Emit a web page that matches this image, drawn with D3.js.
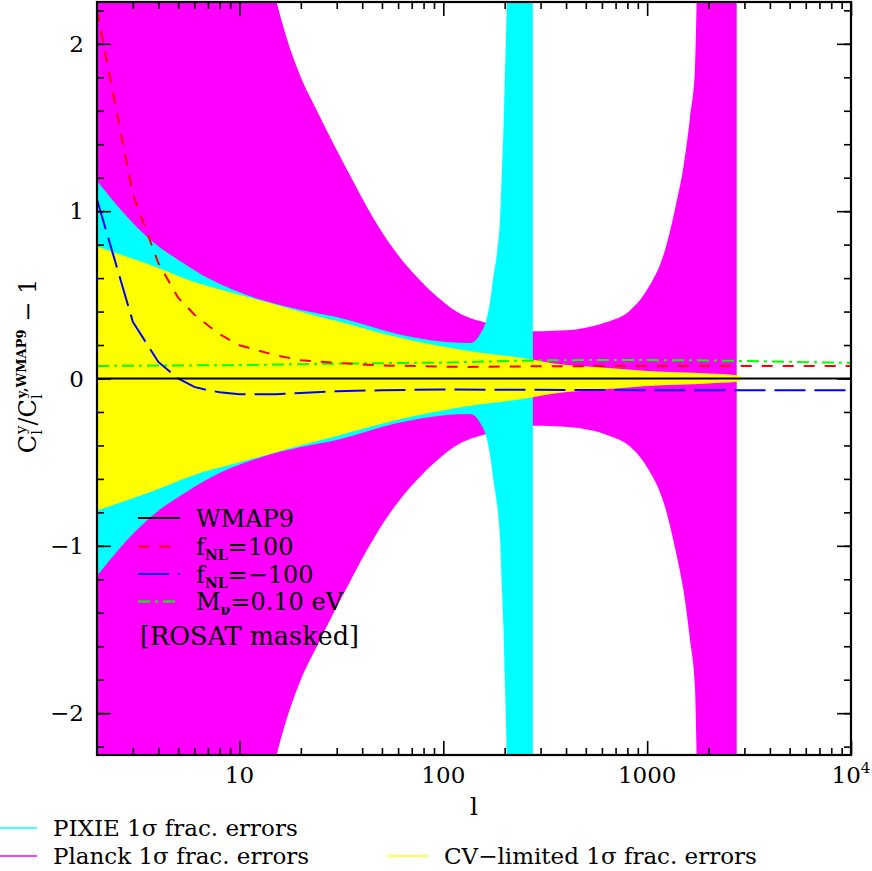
<!DOCTYPE html>
<html>
<head>
<meta charset="utf-8">
<script src="https://cdn.jsdelivr.net/npm/d3@7"></script>
<style>
body { margin: 0; background: #fff; }
text { font-family: "DejaVu Serif", serif; fill: #000; }
</style>
</head>
<body>
<svg id="chart" width="872" height="871"></svg>
<script>
// fractional 1-sigma errors (symmetric bands)
var planckL   = [2, 5, 10, 15, 17, 20, 24, 29, 35, 42, 57, 74, 93, 117, 146, 157, 200, 275, 350, 469, 634, 824, 995, 1225, 1396, 1504, 1622, 1718, 1750, 1850, 2000, 2750];
var planckErr = [30, 10, 3.5, 2.28, 2.04, 1.80, 1.60, 1.40, 1.21, 1.03, 0.774, 0.608, 0.49, 0.397, 0.348, 0.338, 0.30, 0.282, 0.285, 0.298, 0.337, 0.407, 0.527, 0.77, 1.06, 1.26, 1.56, 1.86, 2.26, 3.5, 6, 30];

var pixieL   = [2, 3, 4, 5, 7, 13, 20, 30, 59, 104, 135, 152, 164, 170, 176, 184, 190, 194, 197, 200, 205, 215, 275];
var pixieErr = [1.18, 0.93, 0.79, 0.71, 0.6, 0.467, 0.41, 0.367, 0.268, 0.218, 0.212, 0.268, 0.367, 0.467, 0.606, 0.765, 0.964, 1.26, 1.46, 1.76, 2.26, 4, 10];

var cvL   = [2, 3, 4, 6, 9, 13, 19, 30, 59, 126, 267, 350, 469, 700, 1000, 2000, 2750, 2950];
var cvErr = [0.789, 0.715, 0.66, 0.576, 0.516, 0.463, 0.407, 0.343, 0.248, 0.169, 0.115, 0.09, 0.075, 0.06, 0.045, 0.03, 0.02, 0];

// model curves, C_l / C_l(WMAP9) - 1
var wmapL = [2, 10000];
var wmap  = [0, 0];
var fnlPosL = [2, 3, 4, 5, 6, 7, 8, 10, 15, 20, 30, 50, 126, 267, 1000, 10000];
var fnlPos  = [2.2, 1.1, 0.69, 0.483, 0.383, 0.318, 0.264, 0.199, 0.139, 0.109, 0.093, 0.078, 0.069, 0.073, 0.075, 0.075];
var fnlNegL = [2, 3, 4, 5, 6, 7, 8, 10, 15, 20, 30, 50, 100, 1000, 10000];
var fnlNeg  = [1.07, 0.338, 0.099, 0.0, -0.05, -0.07, -0.082, -0.094, -0.094, -0.086, -0.076, -0.07, -0.066, -0.07, -0.07];
var mnuL = [2, 10, 30, 100, 270, 500, 1000, 2000, 5000, 10000];
var mnu  = [0.075, 0.08, 0.089, 0.095, 0.108, 0.11, 0.11, 0.108, 0.1, 0.093];

var xMajor = [10, 100, 1000, 10000];
var yMajor = [-2, -1, 0, 1, 2];

var pLeft = 97, pRight = 851, pTop = 2, pBottom = 755;

var svg = d3.select("#chart");

var x = d3.scaleLog().domain([2, 10000]).range([pLeft, pRight]);
var y = d3.scaleLinear().domain([-2.25, 2.25]).range([pBottom, pTop]);

svg.append("defs").append("clipPath")
    .attr("id", "plotclip")
    .append("rect")
    .attr("x", pLeft).attr("y", pTop)
    .attr("width", pRight - pLeft).attr("height", pBottom - pTop);

var plot = svg.append("g").attr("clip-path", "url(#plotclip)");

function zipBand(ls, errs) {
    return ls.map(function(l, i) { return {l: l, e: errs[i]}; });
}
function zipLine(ls, vals) {
    return ls.map(function(l, i) { return {l: l, v: vals[i]}; });
}

var area = d3.area()
    .x(function(d) { return x(d.l); })
    .y0(function(d) { return y(-d.e); })
    .y1(function(d) { return y(d.e); })
    .curve(d3.curveMonotoneX);

var line = d3.line()
    .x(function(d) { return x(d.l); })
    .y(function(d) { return y(d.v); });

plot.append("path").datum(zipBand(planckL, planckErr)).attr("d", area).attr("fill", "#ff00ff");
plot.append("path").datum(zipBand(pixieL, pixieErr)).attr("d", area).attr("fill", "#00ffff");
plot.append("path").datum(zipBand(cvL, cvErr)).attr("d", area).attr("fill", "#ffff00");

var curves = [
    {l: mnuL, v: mnu, color: "#00ff00", dash: "12,5,3,5"},
    {l: fnlPosL, v: fnlPos, color: "#ff0000", dash: "11,10"},
    {l: fnlNegL, v: fnlNeg, color: "#0000ff", dash: "31,9"},
    {l: wmapL, v: wmap, color: "#000000", dash: null}
];

curves.forEach(function(c) {
    plot.append("path")
        .datum(zipLine(c.l, c.v))
        .attr("d", line)
        .attr("fill", "none")
        .attr("stroke", c.color)
        .attr("stroke-width", 2)
        .attr("stroke-dasharray", c.dash);
});

// ticks
var xMinor = [];
[1, 10, 100, 1000].forEach(function(dec) {
    for (var k = 2; k <= 9; k++) {
        if (k * dec > 2 && k * dec < 10000) xMinor.push(k * dec);
    }
});
var yMinor = d3.range(-22, 23, 2).map(function(v) { return v / 10; });

function styleAxis(g) {
    g.select(".domain").remove();
    g.selectAll("line").attr("stroke", "#000").attr("stroke-width", 1.6);
    g.selectAll("text").remove();
}

svg.append("g").attr("transform", "translate(0," + pBottom + ")")
    .call(d3.axisBottom(x).tickValues(xMinor).tickSize(-7).tickSizeOuter(0)).call(styleAxis);
svg.append("g").attr("transform", "translate(0," + pBottom + ")")
    .call(d3.axisBottom(x).tickValues(xMajor).tickSize(-14).tickSizeOuter(0)).call(styleAxis);
svg.append("g").attr("transform", "translate(0," + pTop + ")")
    .call(d3.axisTop(x).tickValues(xMinor).tickSize(-7).tickSizeOuter(0)).call(styleAxis);
svg.append("g").attr("transform", "translate(0," + pTop + ")")
    .call(d3.axisTop(x).tickValues(xMajor).tickSize(-14).tickSizeOuter(0)).call(styleAxis);
svg.append("g").attr("transform", "translate(" + pLeft + ",0)")
    .call(d3.axisLeft(y).tickValues(yMinor).tickSize(-7).tickSizeOuter(0)).call(styleAxis);
svg.append("g").attr("transform", "translate(" + pLeft + ",0)")
    .call(d3.axisLeft(y).tickValues(yMajor).tickSize(-14).tickSizeOuter(0)).call(styleAxis);
svg.append("g").attr("transform", "translate(" + pRight + ",0)")
    .call(d3.axisRight(y).tickValues(yMinor).tickSize(-7).tickSizeOuter(0)).call(styleAxis);
svg.append("g").attr("transform", "translate(" + pRight + ",0)")
    .call(d3.axisRight(y).tickValues(yMajor).tickSize(-14).tickSizeOuter(0)).call(styleAxis);

svg.append("rect")
    .attr("x", pLeft).attr("y", pTop)
    .attr("width", pRight - pLeft).attr("height", pBottom - pTop)
    .attr("fill", "none").attr("stroke", "#000").attr("stroke-width", 2.2);

// tick labels
xMajor.forEach(function(v) {
    var t = svg.append("text")
        .attr("x", x(v)).attr("y", 783)
        .attr("text-anchor", "middle")
        .attr("font-size", 23);
    if (v === 10000) {
        t.text("10");
        t.append("tspan").attr("font-size", 15).attr("dy", -10).text("4");
    } else {
        t.text(v);
    }
});
yMajor.forEach(function(v) {
    svg.append("text")
        .attr("x", 84).attr("y", y(v))
        .attr("dy", "0.36em")
        .attr("text-anchor", "end")
        .attr("font-size", 23)
        .text(v < 0 ? "\u2212" + Math.abs(v) : v);
});

// axis titles
svg.append("text")
    .attr("x", (pLeft + pRight) / 2).attr("y", 815)
    .attr("text-anchor", "middle")
    .attr("font-size", 25)
    .text("l");

var ylab = svg.append("text")
    .attr("transform", "translate(36,366) rotate(-90)")
    .attr("text-anchor", "middle")
    .attr("font-size", 24);
ylab.append("tspan").text("C");
ylab.append("tspan").attr("font-size", 15).attr("dy", 6).text("l");
ylab.append("tspan").attr("font-size", 15).attr("dx", -4).attr("dy", -16).text("y");
ylab.append("tspan").attr("dy", 10).text("/C");
ylab.append("tspan").attr("font-size", 15).attr("dy", 6).text("l");
ylab.append("tspan").attr("font-size", 13).attr("font-weight", "bold").attr("dx", -4).attr("dy", -16).text("y,WMAP9");
ylab.append("tspan").attr("dy", 10).text(" \u2212 1");

// legend inside the plot
var legendRows = [518, 546.5, 574, 601.5];
var legendNames = [["WMAP9", "", ""], ["f", "NL", "=100"], ["f", "NL", "=\u2212100"], ["M", "\u03bd", "=0.10 eV"]];
var legendCurves = [curves[3], curves[1], curves[2], curves[0]];

legendRows.forEach(function(ry, i) {
    svg.append("line")
        .attr("x1", 138).attr("x2", 180)
        .attr("y1", ry).attr("y2", ry)
        .attr("stroke", legendCurves[i].color)
        .attr("stroke-width", 2)
        .attr("stroke-dasharray", legendCurves[i].dash);
    var t = svg.append("text")
        .attr("x", 196).attr("y", ry + 8.5)
        .attr("font-size", 24);
    t.append("tspan").text(legendNames[i][0]);
    if (legendNames[i][1]) {
        t.append("tspan").attr("font-size", 14).attr("font-weight", "bold").attr("dy", 5).text(legendNames[i][1]);
        t.append("tspan").attr("dy", -5).text(legendNames[i][2]);
    }
});

svg.append("text")
    .attr("x", 140).attr("y", 645)
    .attr("font-size", 25.5)
    .text("[ROSAT masked]");

// band legend below the plot
var bandKeys = [
    {x1: 0, x2: 37, ty: 828, color: "#00ffff", label: "PIXIE 1\u03c3 frac. errors"},
    {x1: 0, x2: 37, ty: 856, color: "#ff00ff", label: "Planck 1\u03c3 frac. errors"},
    {x1: 387, x2: 428, ty: 856, color: "#ffff00", label: "CV\u2212limited 1\u03c3 frac. errors"}
];
bandKeys.forEach(function(k) {
    svg.append("line")
        .attr("x1", k.x1).attr("x2", k.x2)
        .attr("y1", k.ty).attr("y2", k.ty)
        .attr("stroke", k.color)
        .attr("stroke-width", 1.6);
    svg.append("text")
        .attr("x", k.x2 + 16).attr("y", k.ty + 8)
        .attr("font-size", 23)
        .text(k.label);
});
</script>
</body>
</html>
